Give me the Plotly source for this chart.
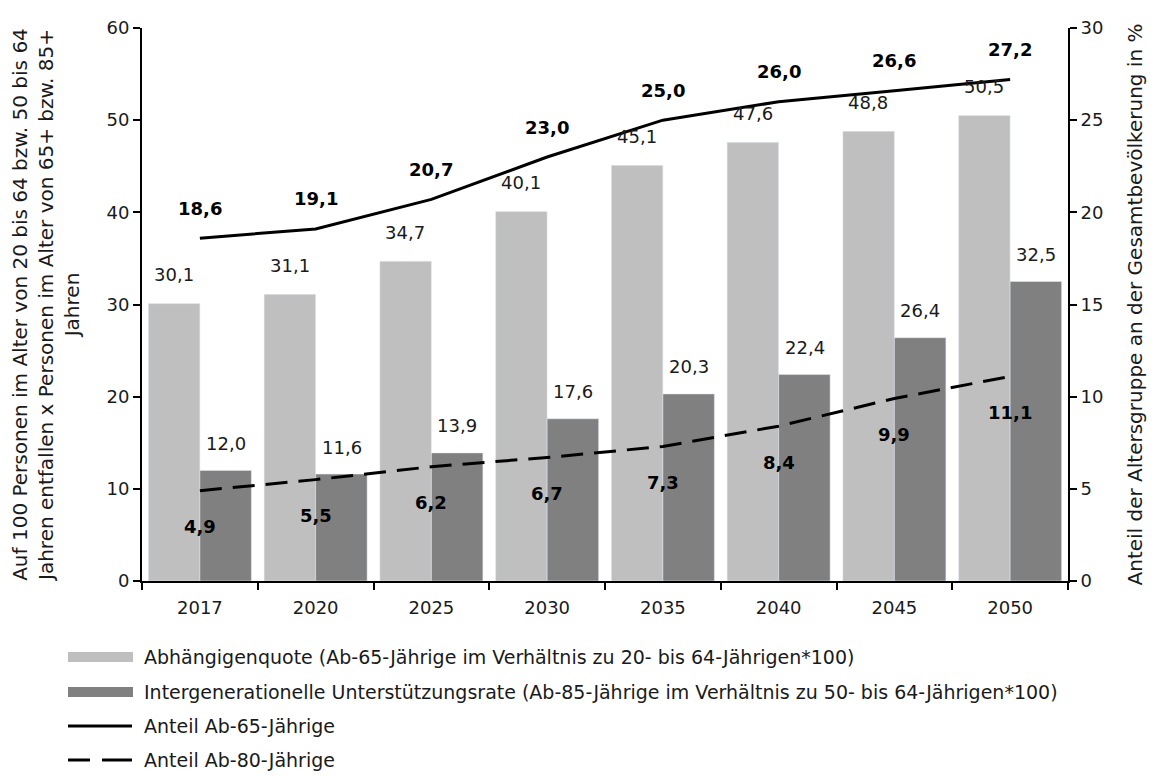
import plotly.graph_objects as go

years = ["2017", "2020", "2025", "2030", "2035", "2040", "2045", "2050"]
abhaengigenquote = [30.1, 31.1, 34.7, 40.1, 45.1, 47.6, 48.8, 50.5]
unterstuetzungsrate = [12.0, 11.6, 13.9, 17.6, 20.3, 22.4, 26.4, 32.5]
anteil65 = [18.6, 19.1, 20.7, 23.0, 25.0, 26.0, 26.6, 27.2]
anteil80 = [4.9, 5.5, 6.2, 6.7, 7.3, 8.4, 9.9, 11.1]

legend_labels = [
    "Abhängigenquote (Ab-65-Jährige im Verhältnis zu 20- bis 64-Jährigen*100)",
    "Intergenerationelle Unterstützungsrate (Ab-85-Jährige im Verhältnis zu 50- bis 64-Jährigen*100)",
    "Anteil Ab-65-Jährige",
    "Anteil Ab-80-Jährige",
]

FONT = "DejaVu Sans"
TXT = "#1a1a1a"
LIGHT = "#bfbfbf"
DARK = "#808080"
FS = 18      # ticks and data labels
FS_LEG = 19  # legend text
FS_TTL = 20  # axis titles

def fmt(v):
    return f"{v:.1f}".replace(".", ",")

fig = go.Figure()
fig.add_trace(go.Bar(x=years, y=abhaengigenquote, marker_color=LIGHT, name=legend_labels[0], showlegend=False))
fig.add_trace(go.Bar(x=years, y=unterstuetzungsrate, marker_color=DARK, name=legend_labels[1], showlegend=False))
fig.add_trace(go.Scatter(x=years, y=anteil65, mode="lines", yaxis="y2",
                         line=dict(color="black", width=3), name=legend_labels[2], showlegend=False))
fig.add_trace(go.Scatter(x=years, y=anteil80, mode="lines", yaxis="y2",
                         line=dict(color="black", width=3, dash="22px,11px"), name=legend_labels[3], showlegend=False))

ann = []
# category positions on the category axis are their indices
for i, v in enumerate(abhaengigenquote):
    ann.append(dict(x=i, y=v, xref="x", yref="y", xshift=-26, yshift=29, text=fmt(v),
                    showarrow=False, font=dict(size=FS, color=TXT, family=FONT)))
for i, v in enumerate(unterstuetzungsrate):
    ann.append(dict(x=i, y=v, xref="x", yref="y", xshift=26, yshift=27, text=fmt(v),
                    showarrow=False, font=dict(size=FS, color=TXT, family=FONT)))
for i, v in enumerate(anteil65):
    ann.append(dict(x=i, y=v, xref="x", yref="y2", yshift=30, text="<b>" + fmt(v) + "</b>",
                    showarrow=False, font=dict(size=FS, color="black", family=FONT)))
for i, v in enumerate(anteil80):
    ann.append(dict(x=i, y=v, xref="x", yref="y2", yshift=-36, text="<b>" + fmt(v) + "</b>",
                    showarrow=False, font=dict(size=FS, color="black", family=FONT)))

# page has an 8px body margin: figure origin sits at screen (8, 8)
OFF = 8
W, H = 1148, 768
L, T = 142 - OFF, 28 - OFF
R = OFF + W - 1068
B = OFF + H - 581
PW, PH = W - L - R, H - T - B
def px(xs):
    return (xs - OFF - L) / PW
def py(ys):
    return (H - B - (ys - OFF)) / PH

rows = [657, 692, 726, 760]
shapes = []
shapes.append(dict(type="rect", xref="paper", yref="paper", x0=px(68), x1=px(133),
                   y0=py(rows[0] + 5), y1=py(rows[0] - 5), fillcolor=LIGHT, line=dict(width=0)))
shapes.append(dict(type="rect", xref="paper", yref="paper", x0=px(68), x1=px(133),
                   y0=py(rows[1] + 5), y1=py(rows[1] - 5), fillcolor=DARK, line=dict(width=0)))
shapes.append(dict(type="line", xref="paper", yref="paper", x0=px(68), x1=px(132),
                   y0=py(rows[2]), y1=py(rows[2]), line=dict(color="black", width=3)))
shapes.append(dict(type="line", xref="paper", yref="paper", x0=px(68), x1=px(90),
                   y0=py(rows[3]), y1=py(rows[3]), line=dict(color="black", width=3)))
shapes.append(dict(type="line", xref="paper", yref="paper", x0=px(102), x1=px(132),
                   y0=py(rows[3]), y1=py(rows[3]), line=dict(color="black", width=3)))
for r, lab in zip(rows, legend_labels):
    ann.append(dict(x=px(142), y=py(r), xref="paper", yref="paper", text=lab, showarrow=False,
                    xanchor="left", yanchor="middle", font=dict(size=FS_LEG, color=TXT, family=FONT)))

fig.update_layout(
    width=W, height=H,
    margin=dict(l=L, r=R, t=T, b=B, autoexpand=False),
    paper_bgcolor="white", plot_bgcolor="white",
    barmode="group", bargap=0.11, bargroupgap=0,
    font=dict(family=FONT, size=FS, color=TXT),
    showlegend=False,
    xaxis=dict(type="category", range=[-0.5, len(years) - 0.5], showline=True, linecolor="black", linewidth=2,
               ticks="outside", tickson="boundaries", ticklen=7, tickcolor="black", tickwidth=2,
               tickfont=dict(size=FS, color=TXT), showgrid=False, tickangle=0,
               ticklabelstandoff=9, automargin=False),
    yaxis=dict(range=[0, 60], dtick=10, showline=True, linecolor="black", linewidth=2,
               ticks="outside", ticklen=7, tickcolor="black", tickwidth=2, showgrid=False,
               zeroline=False, tickfont=dict(size=FS, color=TXT), automargin=False,
               title=dict(text="Auf 100 Personen im Alter von 20 bis 64 bzw. 50 bis 64<br>"
                               "Jahren entfallen x Personen im Alter von 65+ bzw. 85+<br>Jahren",
                          font=dict(size=FS_TTL, color=TXT), standoff=25)),
    yaxis2=dict(range=[0, 30], dtick=5, overlaying="y", side="right", showline=True,
                linecolor="black", linewidth=2, ticks="outside", ticklen=7, tickcolor="black",
                tickwidth=2, showgrid=False, zeroline=False, tickfont=dict(size=FS, color=TXT),
                automargin=False,
                title=dict(text="Anteil der Altersgruppe an der Gesamtbevölkerung in %",
                           font=dict(size=FS_TTL, color=TXT), standoff=25)),
    annotations=ann,
    shapes=shapes,
)

fig.write_html("out.html")
